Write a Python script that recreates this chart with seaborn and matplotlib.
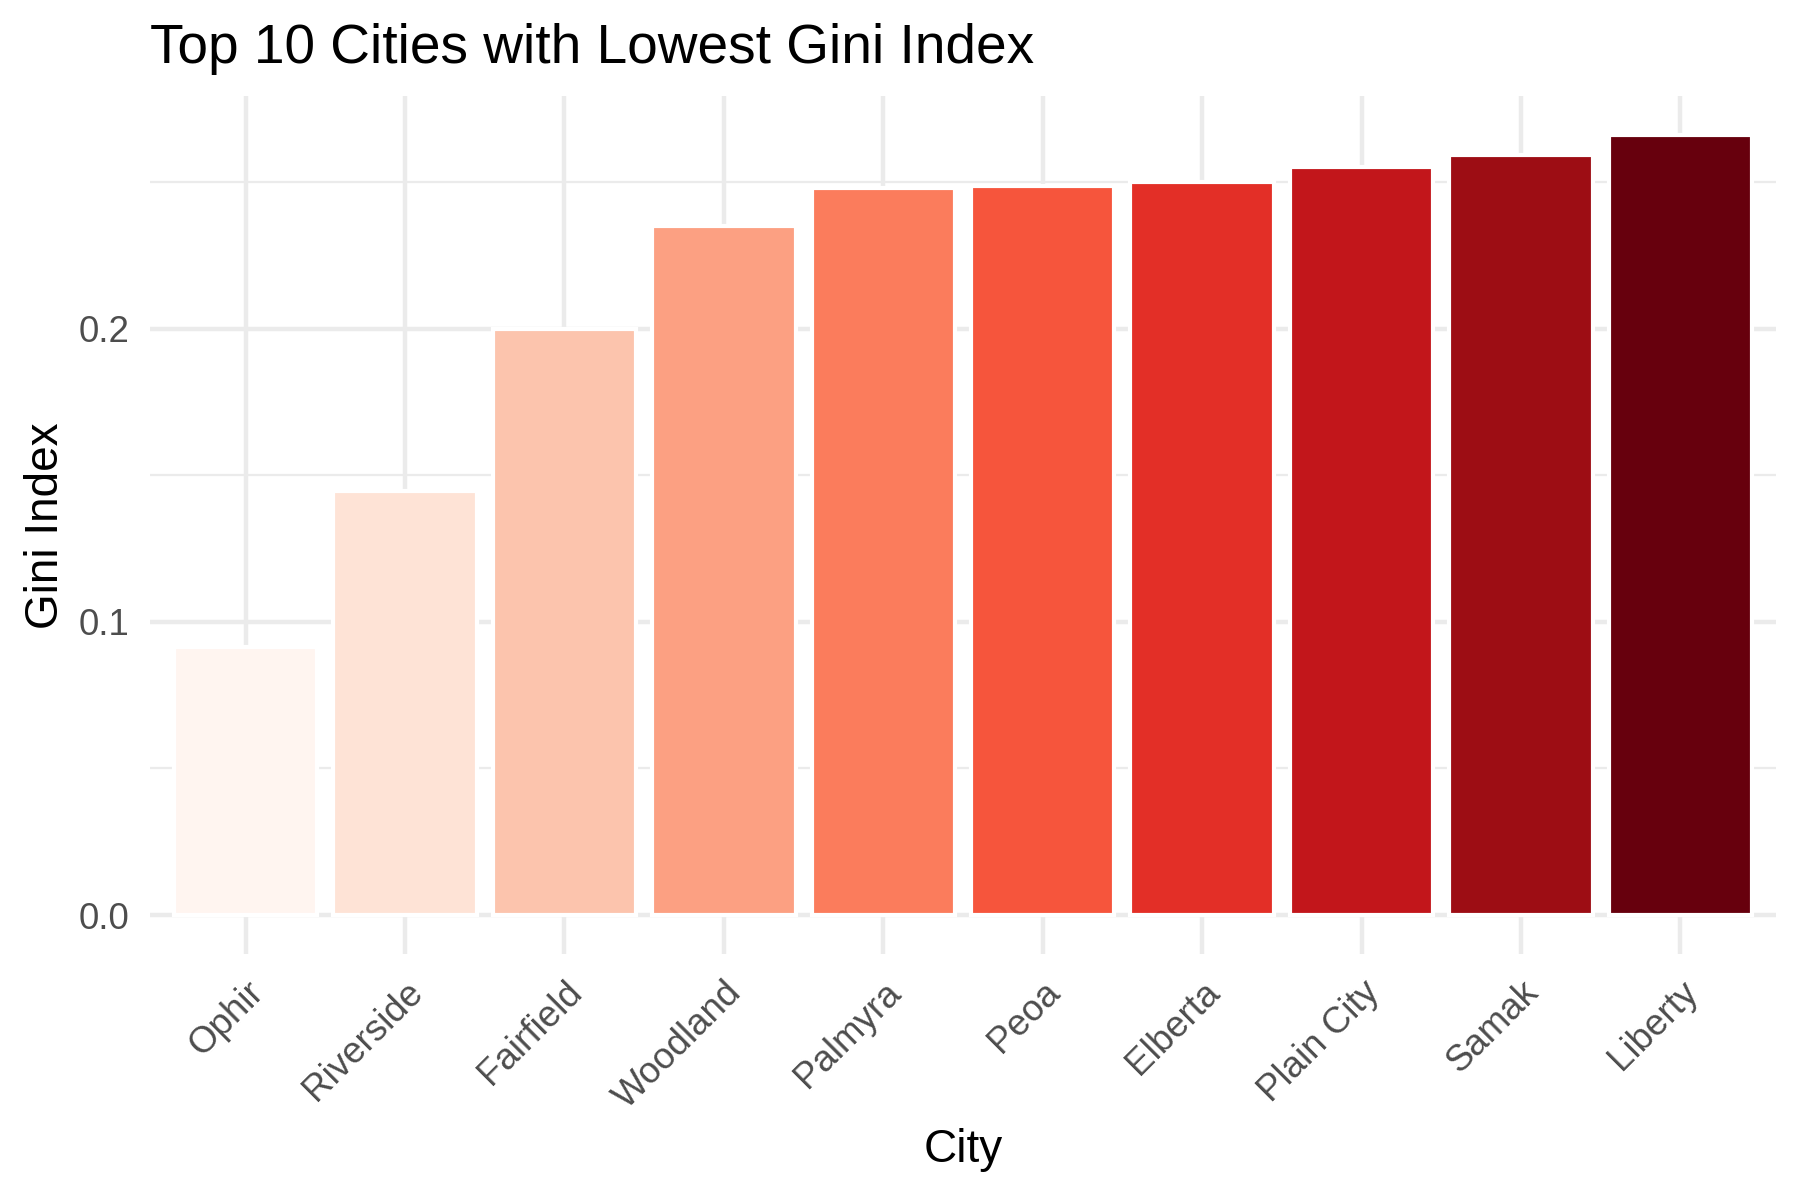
import numpy as np
import pandas as pd
import seaborn as sns
import matplotlib.pyplot as plt
from matplotlib.colors import LinearSegmentedColormap
from matplotlib.ticker import MultipleLocator

# === Data ===
cities = ["Ophir", "Riverside", "Fairfield", "Woodland", "Palmyra",
          "Peoa", "Elberta", "Plain City", "Samak", "Liberty"]
gini = [0.0916, 0.1448, 0.2000, 0.2352, 0.2482,
        0.2486, 0.2502, 0.2554, 0.2593, 0.2660]

df = pd.DataFrame({"city": cities, "gini": gini})

# brewer Reds ramped to 10 colours
reds9 = ["#FFF5F0", "#FEE0D2", "#FCBBA1", "#FC9272", "#FB6A4A",
         "#EF3B2C", "#CB181D", "#A50F15", "#67000D"]
cmap = LinearSegmentedColormap.from_list("reds", reds9)
palette = [cmap(v) for v in np.linspace(0, 1, len(cities))]

sns.set_theme(style="white")
plt.rcParams["font.family"] = ["Liberation Sans", "DejaVu Sans"]

fig = plt.figure(figsize=(6, 4), dpi=300)
ax = fig.add_axes([0.0833, 0.205, 0.9034, 0.7146])

sns.barplot(data=df, x="city", y="gini", hue="city", palette=palette,
            legend=False, width=0.9, saturation=1, ax=ax, zorder=3)

ymax = max(gini)
ax.set_ylim(-0.05 * ymax, 1.05 * ymax)
ax.set_xlim(-0.6, len(cities) - 0.4)
ax.yaxis.set_major_locator(MultipleLocator(0.1))
ax.yaxis.set_minor_locator(MultipleLocator(0.05))
ax.set_yticks([0.0, 0.1, 0.2])
ax.set_yticklabels(["0.0", "0.1", "0.2"])

ax.grid(True, which="major", color="#EBEBEB", linewidth=1.07, zorder=0)
ax.grid(True, which="minor", axis="y", color="#EBEBEB", linewidth=0.53, zorder=0)
ax.set_axisbelow(True)
for s in ax.spines.values():
    s.set_visible(False)
ax.tick_params(axis="both", which="both", length=0, pad=5,
               labelsize=8.8, labelcolor="#4D4D4D")
plt.setp(ax.get_xticklabels(), rotation=45, ha="right", rotation_mode="anchor")

ax.set_title("Top 10 Cities with Lowest Gini Index", loc="left", fontsize=13.2,
             color="black", pad=8)
ax.set_xlabel("City", fontsize=11, color="black", labelpad=3)
ax.set_ylabel("Gini Index", fontsize=11, color="black", labelpad=2.5)

fig.savefig("out.png", dpi=300, facecolor="white")
plt.close()
